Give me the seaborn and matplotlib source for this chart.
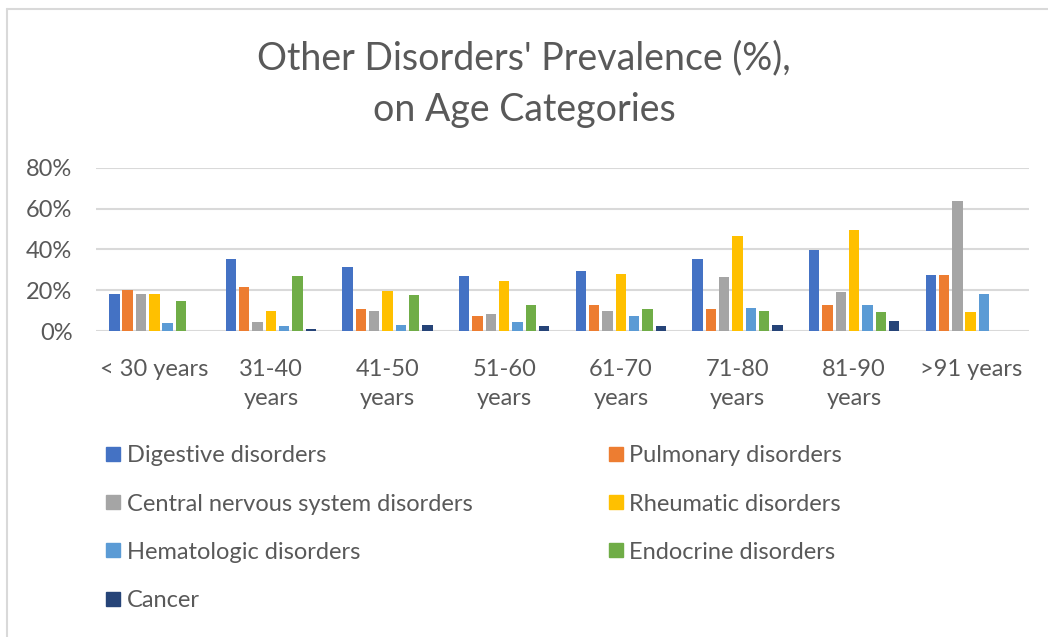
import pandas as pd
import matplotlib.pyplot as plt
import seaborn as sns
from matplotlib.lines import Line2D
from matplotlib.ticker import PercentFormatter

# age groups on the x axis
ageGroups = ['< 30 years', '31-40\nyears', '41-50\nyears', '51-60\nyears',
             '61-70\nyears', '71-80\nyears', '81-90\nyears', '>91 years']

disorders = ['Digestive disorders', 'Pulmonary disorders', 'Central nervous system disorders',
             'Rheumatic disorders', 'Hematologic disorders', 'Endocrine disorders', 'Cancer']

# prevalence in %, one list per disorder
digestive = [18.4, 35.1, 31.5, 27.2, 29.3, 35.1, 39.8, 27.3]
pulmonary = [20.3, 21.8, 10.7, 7.2, 12.8, 10.7, 12.8, 27.3]
cns = [18.4, 4.4, 10.0, 8.5, 10.0, 26.6, 19.0, 63.6]
rheumatic = [18.4, 10.0, 19.7, 24.4, 27.9, 46.6, 49.5, 9.1]
hematologic = [3.8, 2.5, 3.1, 4.4, 7.2, 11.3, 12.8, 18.2]
endocrine = [14.8, 27.2, 17.5, 12.8, 10.7, 10.0, 9.3, 0.0]
cancer = [0.0, 1.0, 3.1, 2.5, 2.5, 3.1, 5.1, 0.0]

colors = ['#4472C4', '#ED7D31', '#A5A5A5', '#FFC000', '#5B9BD5', '#70AD47', '#264478']
textGray = '#595959'

# long format table for seaborn
allSeries = [digestive, pulmonary, cns, rheumatic, hematologic, endocrine, cancer]
rows = []
for name, vals in zip(disorders, allSeries):
    for age, v in zip(ageGroups, vals):
        rows.append({'age': age, 'disorder': name, 'value': v / 100})
df = pd.DataFrame(rows)

sns.set_style('white')
plt.rcParams['font.family'] = ['Lato', 'DejaVu Sans']

fig = plt.figure(figsize=(10.48, 6.37), dpi=100)
ax = fig.add_axes([96 / 1048, 1 - 331 / 637, 933 / 1048, 163 / 637])

sns.barplot(data=df, x='age', y='value', hue='disorder', order=ageGroups,
            hue_order=disorders, palette=colors, saturation=1, width=0.8, gap=0.22,
            linewidth=0, ax=ax)

ax.set_ylim(0, 0.8)
ax.set_yticks([0, 0.2, 0.4, 0.6, 0.8])
ax.yaxis.set_major_formatter(PercentFormatter(1.0, decimals=0))
ax.grid(axis='y', color='#D9D9D9', linewidth=1.5)
ax.set_axisbelow(True)
sns.despine(ax=ax, left=True, bottom=True, top=True, right=True)
ax.set_xlabel('')
ax.set_ylabel('')
ax.tick_params(axis='both', length=0, labelsize=17, colors=textGray)
ax.tick_params(axis='y', pad=17)
ax.tick_params(axis='x', pad=20)
for lbl in ax.get_xticklabels():
    lbl.set_linespacing(1.5)

ax.get_legend().remove()

fig.text(0.5, 1 - 84 / 637, "Other Disorders' Prevalence (%),\non Age Categories",
         ha='center', va='center', fontsize=27, color=textGray, linespacing=1.52)

# legend laid out row by row like the original
handles = [Line2D([0], [0], marker='s', linestyle='', markersize=10,
                  markerfacecolor=c, markeredgecolor=c) for c in colors]
order = [0, 2, 4, 6, 1, 3, 5]
leg = fig.legend([handles[i] for i in order], [disorders[i] for i in order],
                 loc='upper left', bbox_to_anchor=(97 / 1048, 1 - 436 / 637),
                 ncol=2, frameon=False, fontsize=17, labelcolor=textGray,
                 handlelength=0.55, handletextpad=0.3, labelspacing=1.15,
                 columnspacing=5.8, borderaxespad=0)

# chart border (left and top only visible)
fig.add_artist(Line2D([7 / 1048, 7 / 1048], [0, 1 - 9 / 637], transform=fig.transFigure,
                      color='#D9D9D9', linewidth=1.5))
fig.add_artist(Line2D([7 / 1048, 1], [1 - 9 / 637, 1 - 9 / 637], transform=fig.transFigure,
                      color='#D9D9D9', linewidth=1.5))

fig.savefig('out.png', dpi=100)
